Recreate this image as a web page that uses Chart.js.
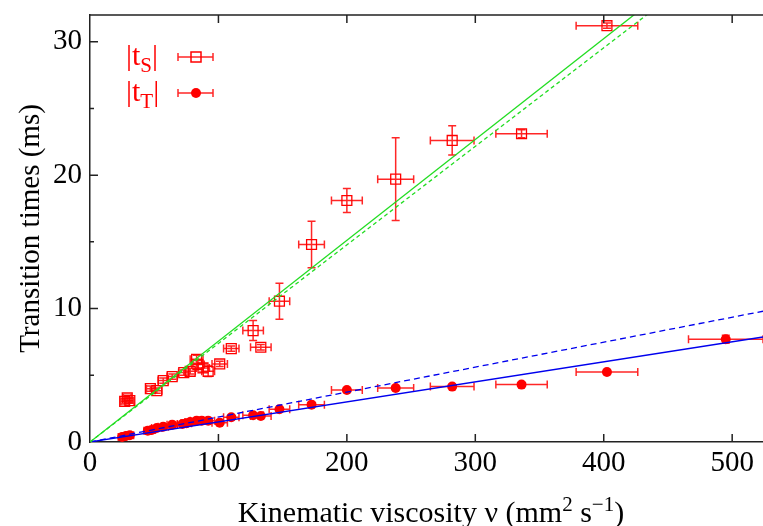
<!DOCTYPE html>
<html>
<head>
<meta charset="utf-8">
<script src="https://cdn.jsdelivr.net/npm/chart.js@4.4.1/dist/chart.umd.min.js"></script>
<style>
  html, body { margin: 0; padding: 0; background: #fff; overflow: hidden; }
  #wrap { width: 763px; height: 526px; position: relative; }
</style>
</head>
<body>
<div id="wrap"><canvas id="chart"></canvas></div>
<script>
// |t_S| : open squares
const viscS    = [27, 29, 31, 47, 52, 57, 64, 73, 78, 83, 84, 88, 92, 101, 110, 127, 133, 147.5, 172.5, 200, 238, 282, 336, 402.5];
const viscErrS = [3, 3, 3, 3, 4, 4, 4, 4, 4, 5, 5, 5, 5, 6, 6, 8, 8, 8, 10, 12, 14, 17, 20, 24];
const tS       = [3.05, 3.3, 3.1, 4.0, 3.85, 4.6, 4.9, 5.2, 5.3, 6.2, 5.8, 5.55, 5.3, 5.85, 7.0, 8.35, 7.1, 10.55, 14.8, 18.1, 19.7, 22.6, 23.1, 31.2];
const tSErr    = [0.2, 0.2, 0.2, 0.2, 0.2, 0.2, 0.2, 0.2, 0.2, 0.3, 0.3, 0.3, 0.4, 0.2, 0.2, 0.75, 0.2, 1.35, 1.75, 0.9, 3.1, 1.1, 0.3, 0.2];

// |t_T| : filled circles
const viscT    = [25, 28, 31, 45, 48, 52, 57, 64, 72, 75, 78, 83, 87, 92, 101, 110, 127, 133, 147.5, 172.5, 200, 238, 282, 336, 402.5, 495];
const viscErrT = [3, 3, 3, 3, 3, 4, 4, 4, 4, 4, 4, 5, 5, 5, 6, 6, 8, 8, 8, 10, 12, 14, 17, 20, 24, 29];
const tT       = [0.38, 0.45, 0.5, 0.85, 0.9, 1.05, 1.15, 1.3, 1.35, 1.4, 1.5, 1.6, 1.6, 1.6, 1.45, 1.85, 2.0, 1.95, 2.45, 2.8, 3.9, 4.05, 4.15, 4.3, 5.25, 7.7];
const tTErr    = [0.1, 0.1, 0.1, 0.1, 0.1, 0.1, 0.1, 0.1, 0.1, 0.1, 0.1, 0.1, 0.1, 0.1, 0.1, 0.1, 0.1, 0.1, 0.1, 0.1, 0.1, 0.1, 0.1, 0.1, 0.1, 0.3];

// fitted lines (end points)
const fitX         = [0, 524];
const fitSSolid    = [0, 39.6];
const fitSDashed   = [0, 38.7];
const fitTSolid    = [0, 7.87];
const fitTDashed   = [0, 9.8];

const xTicks = [0, 100, 200, 300, 400, 500];
const yTicks = [0, 10, 20, 30];
const yMinorTicks = [5, 15, 25];

const RED = "#ff0000";
const SERIF = "'Liberation Serif', 'Times New Roman', serif";

function pts(xs, ys) {
  return xs.map((x, i) => ({ x: x, y: ys[i] }));
}

const errors = {
  S: { xErr: viscErrS, yErr: tSErr },
  T: { xErr: viscErrT, yErr: tTErr },
};

// draws the x / y error bars of the two point series
const errorBars = {
  id: "errorBars",
  beforeDatasetsDraw(chart) {
    const ctx = chart.ctx;
    const xs = chart.scales.x, ys = chart.scales.y;
    const a = chart.chartArea;
    ctx.save();
    ctx.beginPath();
    ctx.rect(a.left, a.top, a.right - a.left + 2, a.bottom - a.top);
    ctx.clip();
    ctx.strokeStyle = "rgba(255,0,0,0.85)";
    ctx.lineWidth = 1.5;
    chart.data.datasets.forEach((ds) => {
      const e = errors[ds.errKey];
      if (!e) return;
      ds.data.forEach((p, i) => {
        const px = xs.getPixelForValue(p.x), py = ys.getPixelForValue(p.y);
        const x0 = xs.getPixelForValue(p.x - e.xErr[i]);
        const x1 = xs.getPixelForValue(p.x + e.xErr[i]);
        const y0 = ys.getPixelForValue(p.y - e.yErr[i]);
        const y1 = ys.getPixelForValue(p.y + e.yErr[i]);
        const c = 4;
        ctx.beginPath();
        ctx.moveTo(x0, py); ctx.lineTo(x1, py);
        ctx.moveTo(x0, py - c); ctx.lineTo(x0, py + c);
        ctx.moveTo(x1, py - c); ctx.lineTo(x1, py + c);
        ctx.moveTo(px, y0); ctx.lineTo(px, y1);
        ctx.moveTo(px - c, y0); ctx.lineTo(px + c, y0);
        ctx.moveTo(px - c, y1); ctx.lineTo(px + c, y1);
        ctx.stroke();
      });
    });
    ctx.restore();
  },
};

// draws a run of [text, size, raise] pieces centred on cx
function drawRuns(ctx, runs, cx, baseY) {
  let total = 0;
  runs.forEach((r) => {
    ctx.font = r[1] + "px " + SERIF;
    total += ctx.measureText(r[0]).width;
  });
  let x = cx - total / 2;
  runs.forEach((r) => {
    ctx.font = r[1] + "px " + SERIF;
    ctx.fillText(r[0], x, baseY - r[2]);
    x += ctx.measureText(r[0]).width;
  });
}

// top border, inward ticks, x title and the legend
const frame = {
  id: "frame",
  afterDraw(chart) {
    const ctx = chart.ctx;
    const xs = chart.scales.x, ys = chart.scales.y;
    const a = chart.chartArea;
    ctx.save();
    ctx.strokeStyle = "#222";
    ctx.lineWidth = 1.5;
    ctx.beginPath();
    ctx.moveTo(a.left, a.top); ctx.lineTo(a.right, a.top);
    xTicks.slice(1).forEach((v) => {
      const x = xs.getPixelForValue(v);
      ctx.moveTo(x, a.bottom); ctx.lineTo(x, a.bottom - 8);
      ctx.moveTo(x, a.top); ctx.lineTo(x, a.top + 8);
    });
    yTicks.slice(1).forEach((v) => {
      const y = ys.getPixelForValue(v);
      ctx.moveTo(a.left, y); ctx.lineTo(a.left + 8, y);
    });
    yMinorTicks.forEach((v) => {
      const y = ys.getPixelForValue(v);
      ctx.moveTo(a.left, y); ctx.lineTo(a.left + 4, y);
    });
    ctx.stroke();

    // x axis title with superscripts
    ctx.fillStyle = "#000";
    ctx.textBaseline = "alphabetic";
    ctx.textAlign = "left";
    drawRuns(ctx, [
      ["Kinematic viscosity ν (mm", 30, 0],
      ["2", 21, 11],
      [" s", 30, 0],
      ["−1", 21, 11],
      [")", 30, 0],
    ], 431, 522);

    // legend
    const entries = [
      { sub: "S", y: 57, filled: false },
      { sub: "T", y: 93, filled: true },
    ];
    entries.forEach((en) => {
      ctx.fillStyle = RED;
      ctx.font = "30px " + SERIF;
      let x = 126;
      ctx.fillText("|t", x, en.y + 8);
      x += ctx.measureText("|t").width;
      ctx.font = "21px " + SERIF;
      ctx.fillText(en.sub, x, en.y + 15);
      x += ctx.measureText(en.sub).width;
      ctx.font = "30px " + SERIF;
      ctx.fillText("|", x, en.y + 8);

      ctx.strokeStyle = "rgba(255,0,0,0.85)";
      ctx.lineWidth = 1.5;
      ctx.beginPath();
      ctx.moveTo(178, en.y); ctx.lineTo(213, en.y);
      ctx.moveTo(178, en.y - 4); ctx.lineTo(178, en.y + 4);
      ctx.moveTo(213, en.y - 4); ctx.lineTo(213, en.y + 4);
      ctx.stroke();
      ctx.strokeStyle = RED;
      if (en.filled) {
        ctx.beginPath();
        ctx.arc(196, en.y, 5, 0, Math.PI * 2);
        ctx.fill();
      } else {
        ctx.strokeRect(191, en.y - 5, 10, 10);
      }
    });
    ctx.restore();
  },
};

function noScalePadding(scale) {
  scale.paddingTop = 0;
  scale.paddingBottom = 0;
  scale.paddingLeft = 0;
  scale.paddingRight = 0;
}

const ctx = document.getElementById("chart").getContext("2d");

const myChart = new Chart(ctx, {
  type: "scatter",
  data: {
    datasets: [
      {
        label: "fit S",
        type: "line",
        data: pts(fitX, fitSSolid),
        borderColor: "#22dd22",
        borderWidth: 1.3,
        pointRadius: 0,
      },
      {
        label: "fit S dashed",
        type: "line",
        data: pts(fitX, fitSDashed),
        borderColor: "#22dd22",
        borderWidth: 1.3,
        borderDash: [4, 3],
        pointRadius: 0,
      },
      {
        label: "fit T",
        type: "line",
        data: pts(fitX, fitTSolid),
        borderColor: "#0000ee",
        borderWidth: 1.3,
        pointRadius: 0,
      },
      {
        label: "fit T dashed",
        type: "line",
        data: pts(fitX, fitTDashed),
        borderColor: "#0000ee",
        borderWidth: 1.3,
        borderDash: [6, 4],
        pointRadius: 0,
      },
      {
        label: "|tS|",
        errKey: "S",
        data: pts(viscS, tS),
        pointStyle: "rect",
        pointRadius: 7,
        borderColor: RED,
        backgroundColor: "rgba(0,0,0,0)",
        borderWidth: 1.3,
      },
      {
        label: "|tT|",
        errKey: "T",
        data: pts(viscT, tT),
        pointStyle: "circle",
        pointRadius: 5,
        borderColor: RED,
        backgroundColor: RED,
        borderWidth: 0,
      },
    ],
  },
  options: {
    responsive: true,
    maintainAspectRatio: false,
    animation: false,
    events: [],
    layout: {
      autoPadding: false,
      padding: { top: 15, right: 0, left: 0, bottom: 0 },
    },
    scales: {
      x: {
        type: "linear",
        position: "bottom",
        min: 0,
        max: 524,
        afterBuildTicks: (scale) => {
          scale.ticks = xTicks.map((v) => ({ value: v }));
        },
        afterFit: (scale) => {
          scale.height = 84;
          noScalePadding(scale);
        },
        ticks: {
          includeBounds: false,
          autoSkip: false,
          maxRotation: 0,
          color: "#000",
          padding: 4,
          font: { family: SERIF, size: 29 },
        },
        grid: { display: false, drawTicks: false },
        border: { display: true, color: "#222", width: 1.5 },
      },
      y: {
        type: "linear",
        min: 0,
        max: 32,
        afterBuildTicks: (scale) => {
          scale.ticks = yTicks.map((v) => ({ value: v }));
        },
        afterFit: (scale) => {
          scale.width = 90;
          noScalePadding(scale);
        },
        ticks: {
          includeBounds: false,
          autoSkip: false,
          color: "#000",
          padding: 8,
          font: { family: SERIF, size: 29 },
        },
        grid: { display: false, drawTicks: false },
        border: { display: true, color: "#222", width: 1.5 },
        title: {
          display: true,
          text: "Transition times (ms)",
          color: "#000",
          font: { family: SERIF, size: 29 },
          padding: { top: 14, bottom: 0 },
        },
      },
    },
    plugins: {
      legend: { display: false },
      tooltip: { enabled: false },
    },
  },
  plugins: [errorBars, frame],
});
</script>
</body>
</html>
